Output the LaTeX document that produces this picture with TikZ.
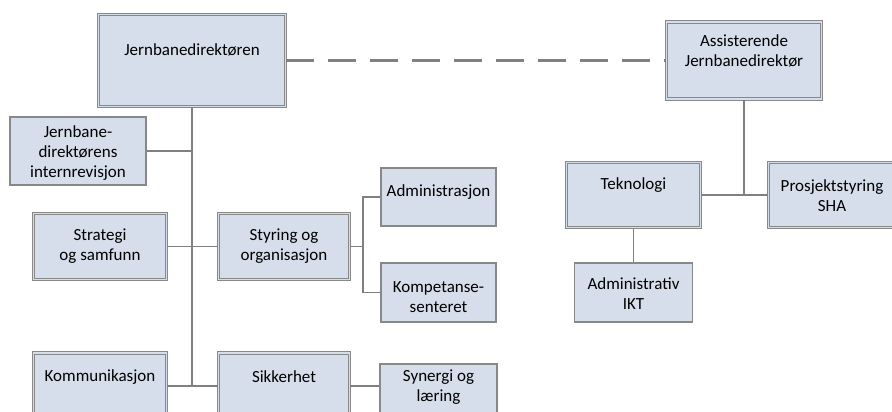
\documentclass[tikz,border=0pt]{standalone}
\usepackage{fontspec}
\setmainfont{Carlito}
\begin{document}
\definecolor{boxfill}{HTML}{D5DEEA}
\definecolor{boxline}{HTML}{888888}
\definecolor{linkline}{HTML}{808080}
\begin{tikzpicture}[x=1pt,y=-1pt,
  unitbox/.style={draw=boxline, fill=boxfill, line width=1.2pt, inner sep=0pt},
  mainbox/.style={draw=boxline, fill=boxfill, line width=1pt,
    double=boxfill, double distance=1.4pt, inner sep=0pt},
  lbl/.style={font=\fontsize{17}{20}\selectfont, align=center, inner sep=0pt},
  link/.style={draw=linkline, line width=1.4pt},
  staff/.style={draw=linkline, line width=3.8pt, dash pattern=on 28pt off 14pt}]
\useasboundingbox (0,0) rectangle (892,412);
\clip (0,0) rectangle (892,412);

% top level
\node[mainbox, minimum width=187, minimum height=92] (jd) at (192,60.5) {};
\node[lbl] (jdt) at (192,50) {Jernbanedirektøren};
\node[mainbox, minimum width=155, minimum height=77] (ajd) at (744,60.5) {};
\node[lbl] (ajdt) at (744,51) {Assisterende\\Jernbanedirektør};

% left branch
\node[unitbox, minimum width=136, minimum height=68] (rev) at (78,151) {};
\node[lbl] (revt) at (78,153.5) {Jernbane-\\direktørens\\internrevisjon};
\node[mainbox, minimum width=133, minimum height=66] (str) at (100,246.5) {};
\node[lbl] (strt) at (100,246.5) {Strategi\\og samfunn};
\node[mainbox, minimum width=131, minimum height=66] (sty) at (284,246.5) {};
\node[lbl] (styt) at (284,246.5) {Styring og\\organisasjon};
\node[unitbox, minimum width=115, minimum height=58] (adm) at (438.5,197) {};
\node[lbl] (admt) at (438.5,192) {Administrasjon};
\node[unitbox, minimum width=115, minimum height=59] (kmp) at (438.5,292.5) {};
\node[lbl] (kmpt) at (438.5,297) {Kompetanse-\\senteret};
\node[mainbox, minimum width=133, minimum height=66] (kom) at (100,386) {};
\node[lbl] (komt) at (100,377) {Kommunikasjon};
\node[mainbox, minimum width=131, minimum height=66] (sik) at (284,386) {};
\node[lbl] (sikt) at (284,377) {Sikkerhet};
\node[unitbox, minimum width=117, minimum height=58] (syn) at (438.5,393) {};
\node[lbl] (synt) at (438.5,387) {Synergi og\\læring};

% right branch
\node[mainbox, minimum width=134, minimum height=65] (tek) at (633.5,195) {};
\node[lbl] (tekt) at (633.5,185) {Teknologi};
\node[mainbox, minimum width=127, minimum height=65] (pro) at (832,195) {};
\node[lbl] (prot) at (832,195.5) {Prosjektstyring\\SHA};
\node[unitbox, minimum width=118, minimum height=59] (ikt) at (633.5,292.5) {};
\node[lbl] (iktt) at (633.5,294) {Administrativ\\IKT};

% junction points
\coordinate (trunkend) at (jd.south |- kom.east);
\coordinate (bracket) at (363,246.5);
\coordinate (rjoin) at (ajd.south |- tek.east);

% connectors
\draw[staff] (jd.east) -- (ajd.west);
\draw[link] (jd.south) -- (trunkend);
\draw[link] (rev.east) -- (rev.east -| jd.south);
\draw[link] (str.east) -- (sty.west);
\draw[link] (kom.east) -- (sik.west);
\draw[link] (sty.east) -- (bracket);
\draw[link] (adm.west) -| (bracket) |- (kmp.west);
\draw[link] (sik.east) -- (sik.east -| syn.west);
\draw[link] (ajd.south) -- (rjoin);
\draw[link] (tek.east) -- (pro.west);
\draw[link] (tek.south) -- (ikt.north);
\end{tikzpicture}
\end{document}
